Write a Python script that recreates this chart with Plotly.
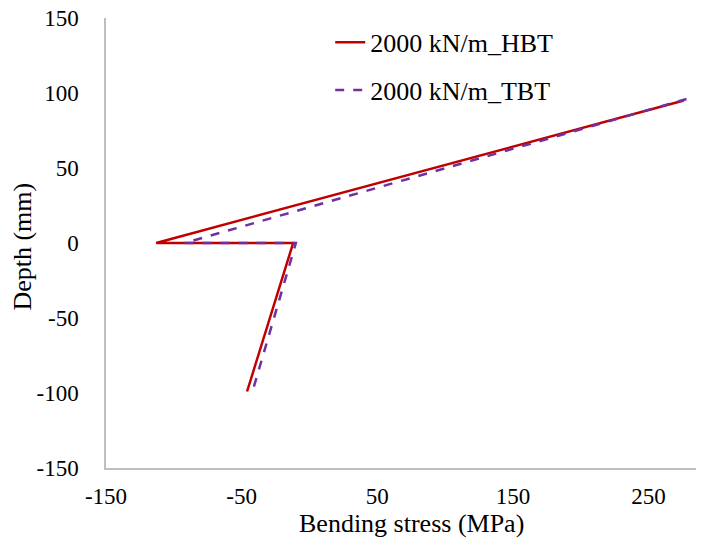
import plotly.graph_objects as go

# Data
hbt_stress = [276, -113, -12, -46]
hbt_depth = [95, 0, 0, -99]
tbt_stress = [278, -92, -10, -42]
tbt_depth = [96, 0, 0, -99]

x_ticks = [-150, -50, 50, 150, 250]
x_ticktext = ["-150", "-50", "50", "150", "250"]
y_ticks = [-150, -100, -50, 0, 50, 100, 150]
y_ticktext = ["-150", "-100", "-50", "0", "50", "100", "150"]

FONT = "Liberation Serif"

fig = go.Figure()
fig.add_trace(go.Scatter(
    x=hbt_stress, y=hbt_depth, mode="lines", name="2000 kN/m_HBT",
    line=dict(color="#C00000", width=2.5), legendgroup="a"))
fig.add_trace(go.Scatter(
    x=tbt_stress, y=tbt_depth, mode="lines", name="2000 kN/m_TBT",
    line=dict(color="#7030A0", width=2.5, dash="dash"), legendgroup="b"))

axis_common = dict(
    showgrid=False, zeroline=False, showline=True, linecolor="#BFBFBF",
    linewidth=1.5, ticks="", automargin=False,
    tickfont=dict(family=FONT, size=23, color="black"),
)

fig.update_layout(
    width=708, height=551,
    margin=dict(l=106, r=12, t=18, b=83),
    plot_bgcolor="white", paper_bgcolor="white",
    font=dict(family=FONT, color="black"),
    xaxis=dict(range=[-150, 285], tickvals=x_ticks, ticktext=x_ticktext,
               ticklabelstandoff=7, **axis_common),
    yaxis=dict(range=[-150, 150], tickvals=y_ticks, ticktext=y_ticktext,
               ticklabelstandoff=21, **axis_common),
    legend=dict(x=0.38, y=0.998, xanchor="left", yanchor="top",
                font=dict(family=FONT, size=26), bgcolor="rgba(0,0,0,0)",
                traceorder="grouped", tracegroupgap=11),
    annotations=[
        dict(text="Bending stress (MPa)", xref="paper", yref="paper",
             x=0.518, y=-0.124, xanchor="center", yanchor="middle",
             showarrow=False, font=dict(family=FONT, size=26, color="black")),
        dict(text="Depth (mm)", xref="paper", yref="paper",
             x=-0.1407, y=0.492, xanchor="center", yanchor="middle",
             textangle=-90, showarrow=False,
             font=dict(family=FONT, size=26, color="black")),
    ],
)

fig.write_html("out.html")
